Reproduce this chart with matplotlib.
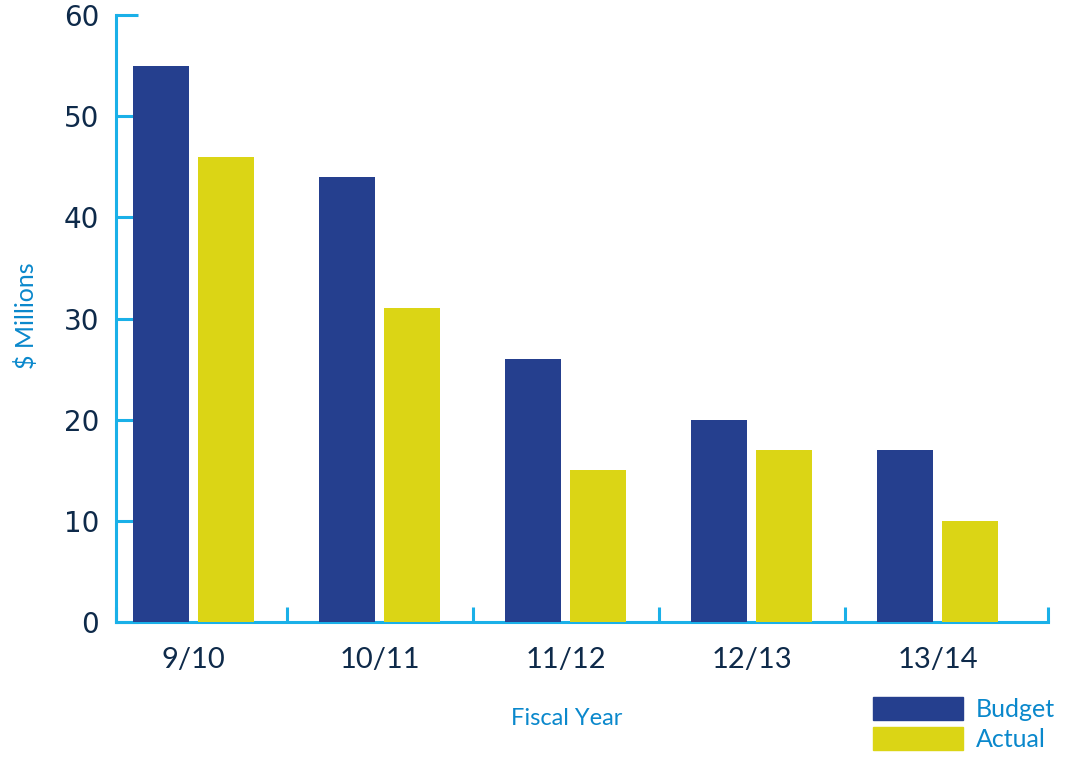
import numpy as np
import matplotlib
matplotlib.use("Agg")
import matplotlib.pyplot as plt
from matplotlib.patches import Patch

# Budget vs actual spend per fiscal year ($ millions)
years = ["9/10", "10/11", "11/12", "12/13", "13/14"]
budget = [55, 44, 26, 20, 17]
actual = [46, 31, 15, 17, 10]

BLUE = "#253f8e"
YELLOW = "#dbd515"
AXIS = "#1ab0e8"
LABEL = "#0a88cc"
TICK = "#0e2a4a"

fig = plt.figure(figsize=(10.71, 7.59), dpi=100)
ax = fig.add_axes([0.1083, 0.1805, 0.8702, 0.7997])

x = np.arange(len(years))
w = 0.30
off = 0.176
ax.bar(x - off, budget, width=w, color=BLUE, zorder=3, label="Budget")
ax.bar(x + off, actual, width=w, color=YELLOW, zorder=3, label="Actual")

ax.set_xlim(-0.417, 4.594)
ax.set_ylim(0, 60)

# axis styling: only left and bottom spines, ticks pointing inward
for s in ("top", "right"):
    ax.spines[s].set_visible(False)
for s in ("left", "bottom"):
    ax.spines[s].set_color(AXIS)
    ax.spines[s].set_linewidth(2.2)
    ax.spines[s].set_zorder(1)

ax.set_yticks(np.arange(0, 61, 10))
ax.tick_params(axis="y", direction="in", length=16, width=2.2, color=AXIS,
               labelsize=20, labelcolor=TICK, pad=12)
for t in ax.get_yticklabels():
    t.set_family("DejaVu Sans")

# group separators on the x axis, group labels in between
bounds = [-0.417, 0.5, 1.5, 2.5, 3.5, 4.594]
ax.set_xticks(bounds)
ax.set_xticklabels([""] * len(bounds))
ax.tick_params(axis="x", which="major", direction="in", length=11, width=2.2,
               color=AXIS)
ax.set_xticks(x, minor=True)
ax.set_xticklabels(years, minor=True, fontsize=21, color=TICK, family="Lato")
ax.tick_params(axis="x", which="minor", length=0, pad=18)

ax.set_ylabel("$ Millions", fontsize=18, color=LABEL, family="Lato")
ax.yaxis.set_label_coords(-0.084, 0.504)
ax.set_xlabel("Fiscal Year", fontsize=17, color=LABEL, family="Lato")
ax.xaxis.set_label_coords(0.484, -0.142)

handles = [Patch(color=BLUE), Patch(color=YELLOW)]
leg = fig.legend(handles, ["Budget", "Actual"], loc="upper left",
                 bbox_to_anchor=(0.815, 0.0817), frameon=False, borderpad=0,
                 borderaxespad=0, handlelength=3.6, handleheight=1.04,
                 labelspacing=0.24, handletextpad=0.52,
                 prop={"family": "Lato", "size": 18})
for t in leg.get_texts():
    t.set_color(LABEL)

fig.savefig("out.png", dpi=100)
